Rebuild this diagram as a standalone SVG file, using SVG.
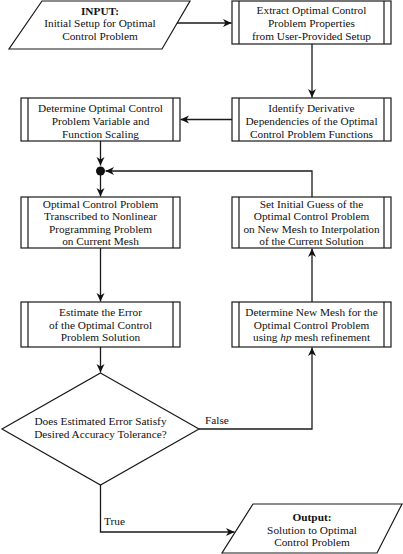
<svg xmlns="http://www.w3.org/2000/svg" width="403" height="554" viewBox="0 0 403 554">
<defs>
<style>
.shape{fill:#fff;stroke:#1a1a1a;stroke-width:1.2}
.inner{stroke:#1a1a1a;stroke-width:1.2;fill:none}
.t{font-family:"Liberation Serif","DejaVu Serif",serif;font-size:11.3px;fill:#111;text-anchor:middle}
.b{font-weight:bold}
.lbl{font-family:"Liberation Serif","DejaVu Serif",serif;font-size:11.3px;fill:#111}
.conn{stroke:#1a1a1a;stroke-width:1.3;fill:none}
</style>
<marker id="arr" viewBox="-9 -5 10 10" markerWidth="10" markerHeight="10" refX="0" refY="0" orient="auto" markerUnits="userSpaceOnUse">
<path d="M0,0 L-8.5,-4 L-6,0 L-8.5,4 Z" fill="#111"/>
</marker>
</defs>
<rect width="403" height="554" fill="#fff"/>

<g id="connectors">
<path class="conn" d="M176,23 H231.5" marker-end="url(#arr)"/>
<path class="conn" d="M312,44 V97.5" marker-end="url(#arr)"/>
<path class="conn" d="M232,119.5 H180.5" marker-end="url(#arr)"/>
<path class="conn" d="M100.5,141 V165.5" marker-end="url(#arr)"/>
<path class="conn" d="M312,197 V171 H105.5" marker-end="url(#arr)"/>
<path class="conn" d="M100.5,171 V196.5" marker-end="url(#arr)"/>
<path class="conn" d="M100.5,248 V301.5" marker-end="url(#arr)"/>
<path class="conn" d="M100.5,347 V372.5" marker-end="url(#arr)"/>
<path class="conn" d="M199,429 H312 V347.5" marker-end="url(#arr)"/>
<path class="conn" d="M312,302 V248.5" marker-end="url(#arr)"/>
<path class="conn" d="M100.5,485 V532 H234.5" marker-end="url(#arr)"/>
<circle cx="100.5" cy="171" r="4.5" fill="#111"/>
<text class="lbl" x="205" y="424">False</text>
<text class="lbl" x="104" y="525">True</text>
</g>

<g id="input">
<polygon class="shape" points="42,1 190,1 162,49 9,49"/>
<text class="t b" x="100" y="14.5">INPUT:</text>
<text class="t" x="100" y="27">Initial Setup for Optimal</text>
<text class="t" x="100" y="39.5">Control Problem</text>
</g>

<g id="extract">
<rect class="shape" x="232" y="1" width="159" height="43"/>
<path class="inner" d="M239,1 V44 M384,1 V44"/>
<text class="t" x="311.5" y="13.5">Extract Optimal Control</text>
<text class="t" x="311.5" y="26.5">Problem Properties</text>
<text class="t" x="311.5" y="39.5">from User-Provided Setup</text>
</g>

<g id="identify">
<rect class="shape" x="232" y="98" width="159" height="43"/>
<path class="inner" d="M239,98 V141 M384,98 V141"/>
<text class="t" x="311.5" y="111.5">Identify Derivative</text>
<text class="t" x="311.5" y="124.5">Dependencies of the Optimal</text>
<text class="t" x="311.5" y="137.5">Control Problem Functions</text>
</g>

<g id="scaling">
<rect class="shape" x="21" y="98" width="159" height="43"/>
<path class="inner" d="M28,98 V141 M173,98 V141"/>
<text class="t" x="100.5" y="111.5">Determine Optimal Control</text>
<text class="t" x="100.5" y="124.5">Problem Variable and</text>
<text class="t" x="100.5" y="137.5">Function Scaling</text>
</g>

<g id="transcribe">
<rect class="shape" x="21" y="197" width="159" height="51"/>
<path class="inner" d="M28,197 V248 M173,197 V248"/>
<text class="t" x="100.5" y="207.5">Optimal Control Problem</text>
<text class="t" x="100.5" y="220">Transcribed to Nonlinear</text>
<text class="t" x="100.5" y="232.5">Programming Problem</text>
<text class="t" x="100.5" y="245">on Current Mesh</text>
</g>

<g id="initguess">
<rect class="shape" x="232" y="197" width="159" height="51"/>
<path class="inner" d="M239,197 V248 M384,197 V248"/>
<text class="t" x="311.5" y="207.5">Set Initial Guess of the</text>
<text class="t" x="311.5" y="220">Optimal Control Problem</text>
<text class="t" x="311.5" y="232.5">on New Mesh to Interpolation</text>
<text class="t" x="311.5" y="245">of the Current Solution</text>
</g>

<g id="estimate">
<rect class="shape" x="21" y="302" width="159" height="45"/>
<path class="inner" d="M28,302 V347 M173,302 V347"/>
<text class="t" x="100.5" y="316">Estimate the Error</text>
<text class="t" x="100.5" y="328.5">of the Optimal Control</text>
<text class="t" x="100.5" y="341">Problem Solution</text>
</g>

<g id="newmesh">
<rect class="shape" x="232" y="302" width="159" height="45"/>
<path class="inner" d="M239,302 V347 M384,302 V347"/>
<text class="t" x="311.5" y="316">Determine New Mesh for the</text>
<text class="t" x="311.5" y="328.5">Optimal Control Problem</text>
<text class="t" x="311.5" y="341">using <tspan font-style="italic">hp</tspan> mesh refinement</text>
</g>

<g id="decision">
<polygon class="shape" points="100.5,373 199,429 100.5,485 2,429"/>
<text class="t" x="100.5" y="425">Does Estimated Error Satisfy</text>
<text class="t" x="100.5" y="438">Desired Accuracy Tolerance?</text>
</g>

<g id="output">
<polygon class="shape" points="253,504 402,504 377,553 222,553"/>
<text class="t b" x="312" y="521">Output:</text>
<text class="t" x="312" y="533.5">Solution to Optimal</text>
<text class="t" x="312" y="546">Control Problem</text>
</g>
</svg>
